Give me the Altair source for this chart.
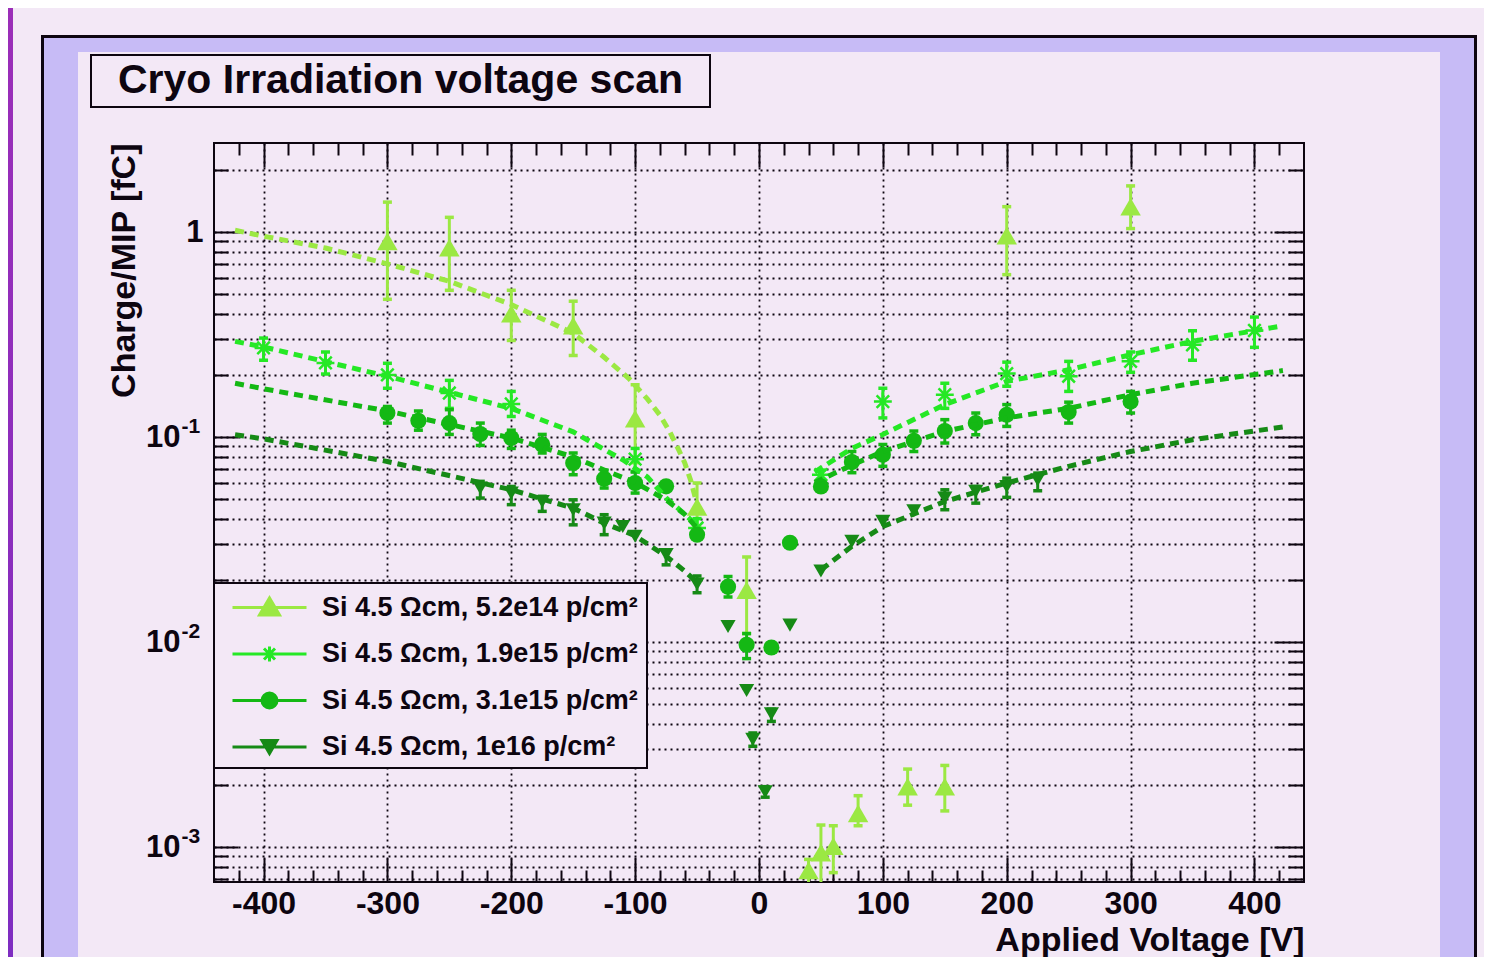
import altair as alt
import pandas as pd

# ---------------- data ----------------
LABELS = ["Si 4.5 Ωcm, 5.2e14 p/cm²", "Si 4.5 Ωcm, 1.9e15 p/cm²",
          "Si 4.5 Ωcm, 3.1e15 p/cm²", "Si 4.5 Ωcm, 1e16 p/cm²"]
COLORS = ["#9be843", "#25e825", "#14b814", "#168a16"]

# series 1 : 5.2e14 (triangles up)
V1 = [-300, -250, -200, -150, -100, -50, -10, 40, 50, 60, 80, 120, 150, 200, 300]
Q1 = [0.90, 0.84, 0.40, 0.35, 0.123, 0.0457, 0.0179, 0.00077, 0.00094, 0.00101,
      0.00146, 0.00197, 0.00197, 0.96, 1.33]
LO1 = [0.47, 0.52, 0.296, 0.25, 0.075, 0.036, 0.011, 0.0006, 0.00065, 0.00075,
       0.00127, 0.0016, 0.0015, 0.62, 1.04]
HI1 = [1.40, 1.18, 0.52, 0.46, 0.18, 0.0597, 0.026, 0.00087, 0.00128, 0.00127,
       0.00178, 0.0024, 0.0025, 1.33, 1.68]

# series 2 : 1.9e15 (asterisks)
V2 = [-400, -350, -300, -250, -200, -100, -50, 50, 100, 150, 200, 250, 300, 350, 400]
Q2 = [0.272, 0.230, 0.201, 0.164, 0.145, 0.078, 0.036, 0.0655, 0.149, 0.161,
      0.204, 0.198, 0.234, 0.282, 0.331]
LO2 = [0.237, 0.203, 0.173, 0.138, 0.126, 0.068, 0.033, 0.062, 0.124, 0.138,
       0.177, 0.167, 0.207, 0.237, 0.274]
HI2 = [0.304, 0.26, 0.229, 0.189, 0.167, 0.088, 0.040, 0.069, 0.173, 0.183,
       0.232, 0.234, 0.26, 0.33, 0.385]

# series 3 : 3.1e15 (circles)
V3 = [-300, -275, -250, -225, -200, -175, -150, -125, -100, -75, -50, -25, -10,
      10, 25, 50, 75, 100, 125, 150, 175, 200, 250, 300]
Q3 = [0.131, 0.120, 0.117, 0.1035, 0.099, 0.092, 0.0747, 0.0626, 0.0597, 0.0575,
      0.0334, 0.0186, 0.0097, 0.0094, 0.0305, 0.0574, 0.0755, 0.082, 0.096, 0.107,
      0.117, 0.1285, 0.1324, 0.149]
LO3 = [0.117, 0.108, 0.103, 0.091, 0.088, 0.0836, 0.0655, 0.0564, 0.0533, None,
       None, 0.0166, 0.0083, None, None, None, 0.067, 0.072, 0.085, 0.0935,
       0.1026, 0.1127, 0.117, 0.131]
HI3 = [0.141, 0.134, 0.136, 0.117, 0.108, 0.103, 0.0836, 0.069, 0.0675, None,
       None, 0.0209, 0.011, None, None, None, 0.085, 0.092, 0.107, 0.1216,
       0.131, 0.144, 0.148, 0.167]

# series 4 : 1e16 (triangles down)
V4 = [-225, -200, -175, -150, -125, -110, -100, -75, -50, -25, -10, -5, 5, 10, 25,
      50, 75, 100, 125, 150, 175, 200, 225]
Q4 = [0.0564, 0.0533, 0.0485, 0.0442, 0.038, 0.0366, 0.0328, 0.0267, 0.0192,
      0.0119, 0.0058, 0.00335, 0.00186, 0.00446, 0.0121, 0.0222, 0.031, 0.0388,
      0.0437, 0.0504, 0.0543, 0.0574, 0.0619]
LO4 = [0.0504, 0.0468, 0.0434, 0.0373, 0.0334, None, None, 0.0238, 0.0174, None,
       None, 0.0031, 0.00175, 0.0041, None, None, None, None, None, 0.0442,
       0.0476, 0.0508, 0.0547]
HI4 = [0.0608, 0.0574, 0.0514, 0.0494, 0.0418, None, None, 0.0282, 0.021, None,
       None, 0.0036, 0.00197, 0.0047, None, None, None, None, None, 0.0553,
       0.0574, 0.063, 0.0667]

# fitted curves (dashed)
FV1 = [-423, -400, -350, -300, -250, -200, -150, -125, -105, -90, -80, -72, -65, -60, -55, -50]
FQ1 = [1.02, 0.955, 0.836, 0.70, 0.575, 0.443, 0.321, 0.245, 0.193, 0.153, 0.128,
       0.106, 0.087, 0.075, 0.061, 0.047]
FV2N = [-423, -400, -300, -200, -150, -125, -110, -90, -75, -60, -50]
FQ2N = [0.293, 0.275, 0.198, 0.138, 0.106, 0.087, 0.0775, 0.0638, 0.0505, 0.042, 0.037]
FV2P = [45, 75, 100, 150, 200, 250, 300, 350, 423]
FQ2P = [0.0675, 0.088, 0.103, 0.144, 0.187, 0.213, 0.252, 0.293, 0.349]
FV3N = [-423, -400, -300, -200, -150, -125, -100, -75, -60, -50]
FQ3N = [0.183, 0.172, 0.134, 0.099, 0.08, 0.069, 0.06, 0.0494, 0.042, 0.036]
FV3P = [45, 50, 75, 100, 150, 200, 250, 300, 350, 423]
FQ3P = [0.06, 0.062, 0.073, 0.085, 0.1066, 0.124, 0.138, 0.161, 0.183, 0.211]
FV4N = [-423, -400, -300, -200, -150, -125, -100, -75, -60, -50]
FQ4N = [0.1026, 0.098, 0.076, 0.0553, 0.045, 0.038, 0.033, 0.0262, 0.0222, 0.0195]
FV4P = [50, 75, 100, 150, 200, 250, 300, 350, 423]
FQ4P = [0.0225, 0.0293, 0.0366, 0.0485, 0.0597, 0.072, 0.085, 0.097, 0.112]

# axes
XDOM = [-440, 440]
YDOM = [6.75e-4, 2.72]
XTICKS = list(range(-420, 421, 20))
YTICKS = [float(f"{m}e{e}") for e in (-4, -3, -2, -1, 0) for m in range(1, 10)
          if YDOM[0] <= float(f"{m}e{e}") <= YDOM[1]]
YEXP = [0.001, 0.01, 0.1]

TITLE = "Cryo Irradiation voltage scan"
XTITLE = "Applied Voltage [V]"
YTITLE = "Charge/MIP [fC]"

# ---------------- styling ----------------
FONT = "Liberation Sans"
W, H = 1090, 739
BG = "#f3e8f6"
LAV = "#c7bbf6"
INK = "#0d0510"

xs = alt.Scale(domain=XDOM, nice=False, zero=False)
ys = alt.Scale(type="log", domain=YDOM, nice=False)

ASTER = "M-1,0L1,0M0,-1L0,1M-0.7,-0.7L0.7,0.7M-0.7,0.7L0.7,-0.7"
LEG_PATHS = [
    "M-3.7,0L3.7,0M-1,0.75L1,0.75L0,-0.95Z",
    "M-3.7,0L3.7,0M0,-0.75L0,0.75M-0.55,-0.55L0.55,0.55M-0.55,0.55L0.55,-0.55",
    "M-3.7,0L3.7,0M0.75,0A0.75,0.75 0 1,1 -0.75,0A0.75,0.75 0 1,1 0.75,0Z",
    "M-3.7,0L3.7,0M-0.75,-0.65L0.75,-0.65L0,0.65Z",
]

one = pd.DataFrame({"v": [0.0], "q": [0.1], "s": [LABELS[0]]})

DEC_X = "datum.value % 100 === 0"
DEC_Y = "abs(log(datum.value)/LN10 - round(log(datum.value)/LN10)) < 1e-6"
E = "round(log(datum.value)/LN10)"
YLABEL = f"{DEC_Y} ? ({E} == 0 ? '1' : '10') : ''"
YEXPLABEL = f"'' + {E}"

def rect(x1, x2, y1, y2, **kw):
    return alt.Chart(one).mark_rect(**kw).encode(
        x=alt.value(x1), x2=alt.value(x2), y=alt.value(y1), y2=alt.value(y2))

# decorations (ROOT canvas frame, title box, legend box)
grad = alt.Gradient(gradient="linear",
                    stops=[alt.GradientStop(color="#9b2eb8", offset=0),
                           alt.GradientStop(color="#7e2dc1", offset=1)],
                    x1=0, x2=0, y1=0, y2=1)
decor = [
    rect(-206, -201, -135, 814, color=grad),
    rect(-170, 1260, -105, -91, color=LAV),
    rect(-170, -136, -105, 814, color=LAV),
    rect(1226, 1260, -105, 814, color=LAV),
    rect(-173, 1263, -108, -105, color=INK),
    rect(-173, -170, -108, 814, color=INK),
    rect(1260, 1263, -108, 814, color=INK),
    rect(-123, 496, -88, -36, fillOpacity=0, stroke=INK, strokeWidth=2),
    alt.Chart(one).mark_text(text=TITLE, align="left", baseline="alphabetic",
                             font=FONT, fontSize=41, fontWeight="bold", color=INK)
    .encode(x=alt.value(-96), y=alt.value(-50)),
]
legend_box = rect(0, 433, 440, 625, fill=BG, stroke=INK, strokeWidth=2)

# axis carriers
empty = alt.Chart(one).transform_filter("false").mark_point(opacity=0)
main_axes = empty.encode(
    x=alt.X("v:Q", scale=xs, axis=alt.Axis(
        orient="bottom", values=XTICKS, ticks=False, tickSize=0, domain=False,
        grid=True, gridDash=[2, 4], gridColor=INK, gridWidth=1.8,
        gridOpacity={"condition": {"test": DEC_X, "value": 1}, "value": 0},
        labelExpr=f"{DEC_X} ? '' + datum.value : ''", labelFont=FONT,
        labelFontSize=32, labelFontWeight="bold", labelColor=INK, labelPadding=6,
        labelBaseline="top", labelFlush=False, labelOverlap=False,
        title=XTITLE, titleX=W, titleY=68, titleAlign="right", titleAnchor="end",
        titleBaseline="alphabetic", titleFont=FONT, titleFontSize=34,
        titleFontWeight="bold", titleColor=INK)),
    y=alt.Y("q:Q", scale=ys, axis=alt.Axis(
        orient="left", values=YTICKS, ticks=False, tickSize=0, domain=False,
        grid=True, gridDash=[2, 4], gridColor=INK, gridWidth=1.8,
        labelExpr=YLABEL, labelFont=FONT, labelFontSize=31, labelFontWeight="bold",
        labelColor=INK,
        labelPadding={"condition": {"test": "datum.value == 1", "value": 11}, "value": 34},
        labelBaseline="middle", labelFlush=False, labelOverlap=False,
        title=YTITLE, titleX=-80, titleY=0, titleAlign="right", titleAngle=270,
        titleBaseline="alphabetic", titleFont=FONT, titleFontSize=34,
        titleFontWeight="bold", titleColor=INK)),
)
exp_axis = empty.encode(
    x=alt.X("v:Q", scale=xs, axis=None),
    y=alt.Y("q:Q", scale=ys, axis=alt.Axis(
        orient="left", values=YEXP, ticks=False, tickSize=0, domain=False, grid=False,
        labelExpr=YEXPLABEL, labelFont=FONT, labelFontSize=21, labelFontWeight="bold",
        labelColor=INK, labelPadding=33, labelAlign="left", labelBaseline="middle",
        labelOffset=-11, labelFlush=False, labelOverlap=False, title=None)),
)

def tick_axis(orient, values, test, off, big, small):
    return alt.Axis(orient=orient, values=values, offset=off, domain=False, grid=False,
                    labels=False, title=None, ticks=True, tickColor=INK, tickWidth=2,
                    tickSize={"condition": {"test": test, "value": big}, "value": small})

ticks_a = empty.encode(
    x=alt.X("v:Q", scale=xs, axis=tick_axis("top", XTICKS, DEC_X, -H, 24, 12)),
    y=alt.Y("q:Q", scale=ys, axis=tick_axis("right", YTICKS, DEC_Y, -W, 24, 14)),
)
ticks_b = empty.encode(
    x=alt.X("v:Q", scale=xs, axis=tick_axis("bottom", XTICKS, DEC_X, -H, 24, 12)),
    y=alt.Y("q:Q", scale=ys, axis=tick_axis("left", YTICKS, DEC_Y, -W, 30, 16)),
)

# series layers
def series_layers(V, Q, LO, HI, color, point_mark):
    df = pd.DataFrame({"v": V, "q": Q, "lo": LO, "hi": HI})
    err = df.dropna()
    X = alt.X("v:Q", scale=xs, axis=None)
    bars = alt.Chart(err).mark_rule(color=color, strokeWidth=3, clip=True).encode(
        x=X, y=alt.Y("lo:Q", scale=ys, axis=None), y2="hi:Q")
    caps = alt.Chart(err).transform_fold(["lo", "hi"], as_=["k", "e"]).mark_tick(
        orient="horizontal", size=9, thickness=3.5, color=color, opacity=1, clip=True
    ).encode(x=X, y=alt.Y("e:Q", scale=ys, axis=None))
    pts = alt.Chart(df).mark_point(**point_mark).encode(
        x=X, y=alt.Y("q:Q", scale=ys, axis=None))
    return [bars, caps, pts]

def fit_layer(parts, color):
    rows = []
    for i, (fv, fq) in enumerate(parts):
        rows += [{"v": a, "q": b, "seg": i} for a, b in zip(fv, fq)]
    return alt.Chart(pd.DataFrame(rows)).mark_line(
        color=color, strokeWidth=5, strokeDash=[9, 6], clip=True).encode(
        x=alt.X("v:Q", scale=xs, axis=None), y=alt.Y("q:Q", scale=ys, axis=None),
        detail="seg:N")

data_layers = []
data_layers += series_layers(V1, Q1, LO1, HI1, COLORS[0],
                             dict(shape="triangle-up", filled=True, size=420, color=COLORS[0], opacity=1))
data_layers += series_layers(V2, Q2, LO2, HI2, COLORS[1],
                             dict(shape=ASTER, filled=False, size=320, strokeWidth=2.5, color=COLORS[1], opacity=1))
data_layers += series_layers(V3, Q3, LO3, HI3, COLORS[2],
                             dict(shape="circle", filled=True, size=260, color=COLORS[2], opacity=1))
data_layers += series_layers(V4, Q4, LO4, HI4, COLORS[3],
                             dict(shape="triangle-down", filled=True, size=230, color=COLORS[3], opacity=1))
data_layers += [
    fit_layer([(FV1, FQ1)], COLORS[0]),
    fit_layer([(FV2N, FQ2N), (FV2P, FQ2P)], COLORS[1]),
    fit_layer([(FV3N, FQ3N), (FV3P, FQ3P)], COLORS[2]),
    fit_layer([(FV4N, FQ4N), (FV4P, FQ4P)], COLORS[3]),
]

# legend carrier
LEG = alt.Legend(orient="none", legendX=28, legendY=437, direction="vertical", title=None,
                 padding=14, rowPadding=18.5,
                 symbolSize=400, symbolStrokeWidth=3, symbolOffset=0, labelOffset=39,
                 labelFont=FONT, labelFontSize=27, labelFontWeight="bold",
                 labelColor=INK, labelLimit=0, symbolOpacity=1)
legend_layer = alt.Chart(one).transform_filter("false").mark_point(
    filled=False, opacity=1, strokeWidth=3).encode(
    x=alt.X("v:Q", scale=xs, axis=None), y=alt.Y("q:Q", scale=ys, axis=None),
    stroke=alt.Stroke("s:N", scale=alt.Scale(domain=LABELS, range=COLORS), legend=LEG),
    fill=alt.Fill("s:N", scale=alt.Scale(domain=LABELS, range=COLORS), legend=LEG),
    shape=alt.Shape("s:N", scale=alt.Scale(domain=LABELS, range=LEG_PATHS), legend=LEG),
)

chart = alt.layer(*decor, main_axes, exp_axis, ticks_a, ticks_b, *data_layers, legend_box,
                  legend_layer).resolve_axis(
    x="independent", y="independent"
).properties(
    width=W, height=H,
    padding={"left": 206, "top": 135, "right": 180, "bottom": 75},
    autosize=alt.AutoSizeParams(type="none"),
).configure(background=BG, font=FONT).configure_view(stroke=INK, strokeWidth=2)

chart.save("out.html", embed_options={"renderer": "svg", "actions": False})
